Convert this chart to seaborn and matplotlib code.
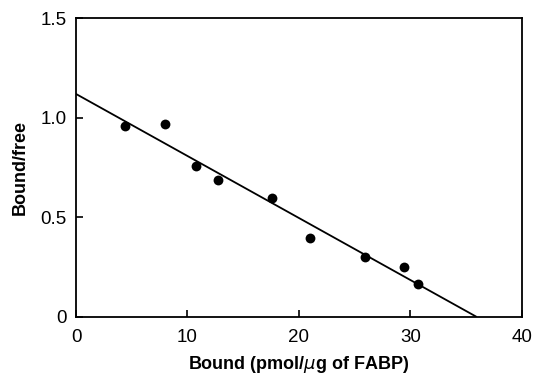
import matplotlib
matplotlib.use("Agg")
import matplotlib.pyplot as plt
import seaborn as sns
import pandas as pd

bound = [4.4, 8.0, 10.8, 12.7, 17.6, 21.0, 25.9, 29.4, 30.7]
bound_free = [0.96, 0.97, 0.76, 0.685, 0.595, 0.395, 0.30, 0.25, 0.165]
fit_x = [0.0, 35.9]
fit_y = [1.12, 0.0]
x_ticks = [0, 10, 20, 30, 40]
y_ticks = [0, 0.5, 1.0, 1.5]
y_tick_labels = ["0", "0.5", "1.0", "1.5"]

sns.set_theme(style="ticks")
plt.rcParams['font.family'] = ['Liberation Sans', 'DejaVu Sans']

df = pd.DataFrame({"x": bound, "y": bound_free})
fit = pd.DataFrame({"x": fit_x, "y": fit_y})

fig = plt.figure(figsize=(5.33, 3.76), dpi=100)
ax = fig.add_axes([0.1426, 0.158, 0.8364, 0.793])

sns.lineplot(data=fit, x="x", y="y", ax=ax, color="black", linewidth=1.3)
sns.scatterplot(data=df, x="x", y="y", ax=ax, color="black", s=50, edgecolor="black", linewidth=0)

ax.set_xlim(0, 40)
ax.set_ylim(0, 1.5)
ax.set_xticks(x_ticks)
ax.set_xticklabels([str(t) for t in x_ticks])
ax.set_yticks(y_ticks)
ax.set_yticklabels(y_tick_labels)
for s in ax.spines.values():
    s.set_visible(True)
    s.set_color("black")
    s.set_linewidth(1.3)
ax.tick_params(direction="in", length=5, width=1.2, labelsize=13.5, colors="black")
ax.tick_params(axis="x", pad=9)
ax.tick_params(axis="y", pad=7)
ax.set_xlabel(r"Bound (pmol/$\mu$g of FABP)", fontsize=13, fontweight="bold", labelpad=6, color="black")
ax.set_ylabel("Bound/free", fontsize=13, fontweight="bold", labelpad=8, color="black")

fig.savefig("out.png", dpi=100)
